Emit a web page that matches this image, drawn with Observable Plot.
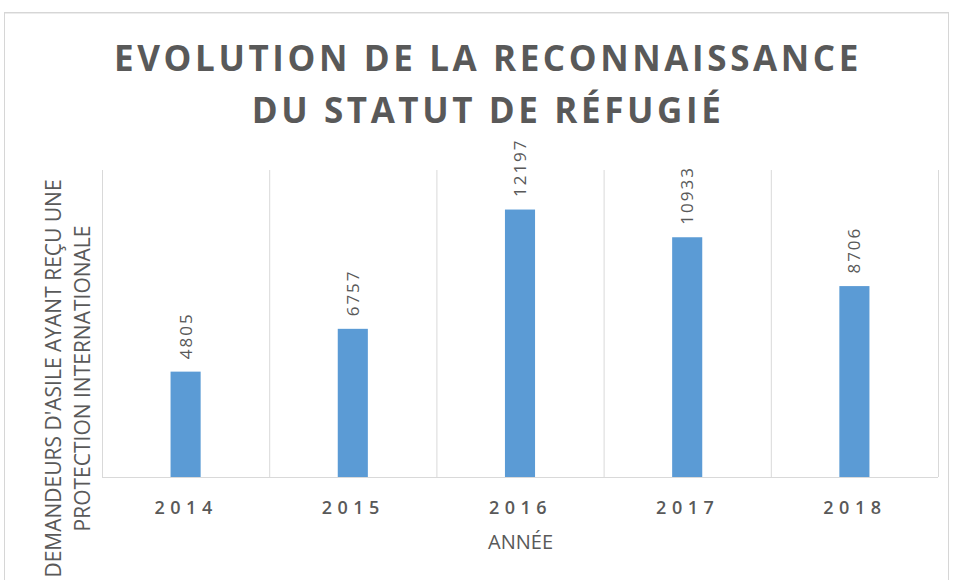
<!DOCTYPE html>
<html><head><meta charset="utf-8">
<script src="https://cdn.jsdelivr.net/npm/d3@7"></script>
<script src="https://cdn.jsdelivr.net/npm/@observablehq/plot@0.6"></script>
<style>
body{margin:0;background:#fff;}
#wrap{position:relative;width:955px;height:580px;overflow:hidden;font-family:"Open Sans",sans-serif;}
#frame{position:absolute;left:4px;top:12px;width:943px;height:620px;border:1px solid #d6d6d6;box-shadow:inset 0 1px 0 #ececec;}
#title{position:absolute;left:21px;right:0;top:32px;text-align:center;font-weight:700;font-size:35px;line-height:52px;letter-spacing:3.6px;color:#595959;}
#chart{position:absolute;left:0;top:140px;}
</style></head><body>
<div id="wrap"><div id="frame"></div><div id="title">EVOLUTION DE LA RECONNAISSANCE<br>DU STATUT DE RÉFUGIÉ</div><div id="chart"></div></div>
<script>
const years = [2014, 2015, 2016, 2017, 2018];
const values = [4805, 6757, 12197, 10933, 8706];
const yLabel = "DEMANDEURS D'ASILE AYANT REÇU UNE\nPROTECTION INTERNATIONALE";
const xLabel = "ANNÉE";

const data = years.map((year, i) => ({year, value: values[i]}));
const boundaries = [...years.map(y => y - 0.5), years[years.length - 1] + 0.5];
const halfBar = 0.09;
const grey = "#595959";

const plot = Plot.plot({
  width: 955, height: 440,
  marginLeft: 102, marginRight: 17, marginTop: 30, marginBottom: 103,
  x: {domain: [years[0] - 0.5, years[years.length - 1] + 0.5], axis: null},
  y: {domain: [0, 14000], axis: null},
  style: {fontFamily: '"Open Sans", sans-serif', background: "transparent", overflow: "visible"},
  marks: [
    Plot.ruleX(boundaries, {stroke: "#d9d9d9", strokeWidth: 1}),
    Plot.ruleY([0], {stroke: "#d9d9d9", strokeWidth: 1}),
    Plot.rectY(data, {x1: d => d.year - halfBar, x2: d => d.year + halfBar, y: "value", fill: "#5b9bd5"}),
    Plot.text(data, {x: "year", y: "value", text: d => String(d.value), rotate: -90, textAnchor: "start", lineAnchor: "middle", dy: -13, fontSize: 17, fill: grey}),
    Plot.text(years, {x: d => d, text: d => String(d), frameAnchor: "bottom", lineAnchor: "bottom", dy: 36, fontSize: 18, fontWeight: 600, fill: grey}),
    Plot.text([xLabel], {text: d => d, frameAnchor: "bottom", lineAnchor: "bottom", dy: 71, fontSize: 20, fill: grey}),
    Plot.text([yLabel], {text: d => d, frameAnchor: "left", rotate: -90, textAnchor: "middle", lineAnchor: "bottom", lineHeight: 1.38, dx: -13, dy: 54.5, fontSize: 21, fill: grey})
  ]
});
document.getElementById("chart").appendChild(plot);
const groups = plot.querySelectorAll('g[aria-label="text"]');
if (groups[0]) groups[0].querySelectorAll("text").forEach(t => t.setAttribute("letter-spacing", "2px"));
if (groups[1]) groups[1].querySelectorAll("text").forEach(t => t.setAttribute("letter-spacing", "5.5px"));
</script>
</body></html>
